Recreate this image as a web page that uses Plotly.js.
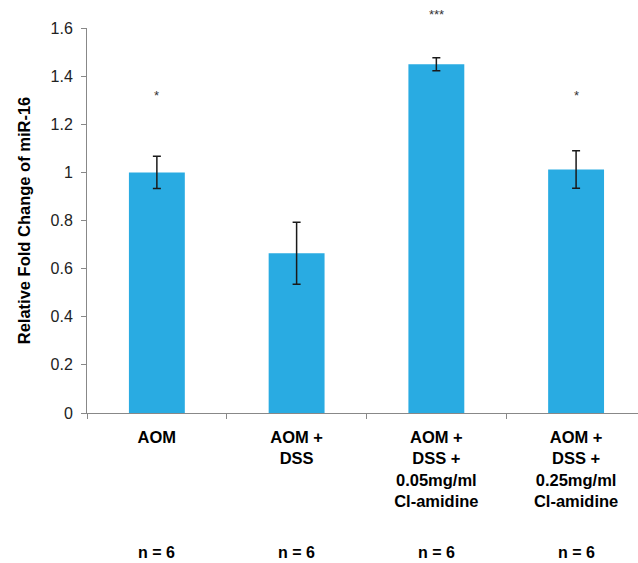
<!DOCTYPE html>
<html>
<head>
<meta charset="utf-8">
<script src="https://cdn.plot.ly/plotly-3.0.1.min.js"></script>
<style>html,body{margin:0;padding:0;background:#fff;}#chart{width:638px;height:563px;}</style>
</head>
<body>
<div id="chart"></div>
<script>
var categories = ["AOM", "AOM +<br>DSS", "AOM +<br>DSS +<br>0.05mg/ml<br>Cl-amidine", "AOM +<br>DSS +<br>0.25mg/ml<br>Cl-amidine"];
var foldChange = [1.00, 0.664, 1.449, 1.012];
var errors = [0.067, 0.129, 0.027, 0.078];
var significance = ["*", "", "***", "*"];
var sigHeights = [1.32, null, 1.655, 1.32];
var sampleSizes = ["n = 6", "n = 6", "n = 6", "n = 6"];
var yMax = 1.6;

var trace = {
  type: "bar",
  x: categories,
  y: foldChange,
  marker: {color: "#29ABE2"},
  error_y: {type: "data", array: errors, visible: true, color: "#1a1a1a", thickness: 1.5, width: 4},
  hoverinfo: "none"
};

var annotations = [];
for (var i = 0; i < categories.length; i++) {
  if (significance[i]) {
    annotations.push({x: categories[i], y: sigHeights[i] / yMax, xref: "x", yref: "paper", text: significance[i],
      showarrow: false, yanchor: "middle", font: {family: "Liberation Sans, Arial, sans-serif", size: 13, color: "#333"}});
  }
  annotations.push({x: categories[i], y: -0.362, xref: "x", yref: "paper", text: "<b>" + sampleSizes[i] + "</b>",
    showarrow: false, yanchor: "middle", font: {family: "Liberation Sans, Arial, sans-serif", size: 16, color: "#000"}});
}

var layout = {
  width: 638, height: 563,
  margin: {l: 87, r: 0, t: 28, b: 150},
  paper_bgcolor: "#fff", plot_bgcolor: "#fff",
  showlegend: false,
  bargap: 0.6,
  xaxis: {
    type: "category",
    range: [-0.5, 3.443],
    tickson: "boundaries",
    ticks: "outside", ticklen: 5, tickcolor: "#888",
    showline: true, linecolor: "#888", linewidth: 1,
    showgrid: false, zeroline: false,
    tickfont: {family: "Liberation Sans, Arial, sans-serif", size: 16.5, color: "#000", weight: "bold"},
    ticklabelstandoff: 9
  },
  yaxis: {
    range: [0, yMax],
    tickvals: [0, 0.2, 0.4, 0.6, 0.8, 1.0, 1.2, 1.4, 1.6],
    ticktext: ["0", "0.2", "0.4", "0.6", "0.8", "1", "1.2", "1.4", "1.6"],
    ticks: "outside", ticklen: 5, tickcolor: "#888",
    showline: true, linecolor: "#888", linewidth: 1,
    showgrid: false, zeroline: false,
    tickfont: {family: "Liberation Sans, Arial, sans-serif", size: 16, color: "#222"},
    ticklabelstandoff: 5,
    title: {text: "<b>Relative Fold Change of miR-16</b>", standoff: 15,
      font: {family: "Liberation Sans, Arial, sans-serif", size: 16.5, color: "#000"}}
  },
  annotations: annotations
};

Plotly.newPlot("chart", [trace], layout, {displayModeBar: false, staticPlot: true});
</script>
</body>
</html>
